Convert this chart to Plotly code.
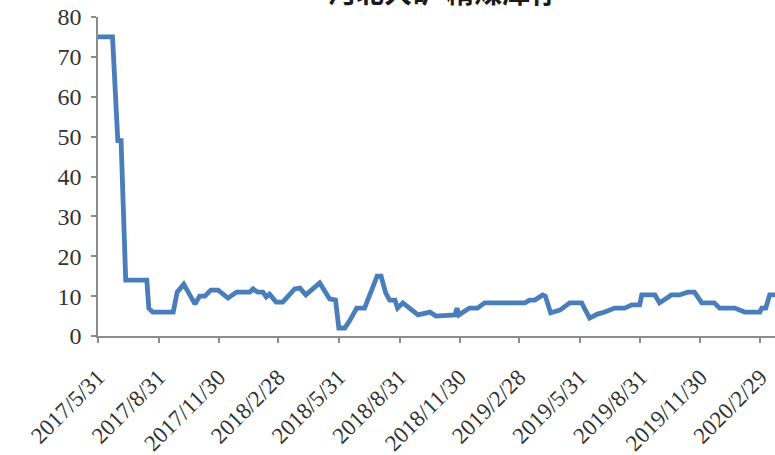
import plotly.graph_objects as go

# weekly-ish readings of the coking coal stock (vertices)
dates = [
    "2017-05-31", "2017-06-22", "2017-06-30", "2017-07-05", "2017-07-12", "2017-08-13",
    "2017-08-16", "2017-08-22", "2017-09-22", "2017-09-28", "2017-10-08", "2017-10-25",
    "2017-11-01", "2017-11-09", "2017-11-18", "2017-11-29", "2017-12-14", "2017-12-27",
    "2018-01-16", "2018-01-21", "2018-01-28", "2018-02-05", "2018-02-10", "2018-02-15",
    "2018-02-25", "2018-03-07", "2018-03-25", "2018-04-02", "2018-04-11", "2018-05-02",
    "2018-05-17", "2018-05-26", "2018-05-31", "2018-06-09", "2018-06-17", "2018-06-27",
    "2018-07-09", "2018-07-20", "2018-07-28", "2018-08-03", "2018-08-10", "2018-08-16",
    "2018-08-24", "2018-08-28", "2018-09-05", "2018-09-28", "2018-10-16", "2018-10-25",
    "2018-11-23", "2018-11-26", "2018-11-29", "2018-12-15", "2018-12-27", "2019-01-07",
    "2019-03-09", "2019-03-16", "2019-03-24", "2019-04-05", "2019-04-09", "2019-04-17",
    "2019-05-01", "2019-05-16", "2019-06-03", "2019-06-15", "2019-06-27", "2019-07-08",
    "2019-07-23", "2019-08-07", "2019-08-18", "2019-08-30", "2019-09-02", "2019-09-22",
    "2019-09-29", "2019-10-17", "2019-10-29", "2019-11-11", "2019-11-21", "2019-12-02",
    "2019-12-21", "2019-12-29", "2020-01-21", "2020-02-05", "2020-02-28", "2020-03-02",
    "2020-03-08", "2020-03-14", "2020-03-22",
]
stock = [
    75, 75, 49, 49, 14, 14,
    7, 6, 6, 11, 13, 8,
    10, 10, 11.5, 11.5, 9.5, 11,
    11, 11.8, 11, 11, 9.8, 10.5,
    8.5, 8.5, 11.8, 12, 10.3, 13.3,
    9.3, 9, 2, 2, 4, 7,
    7, 12, 15, 15, 10.8, 9,
    9, 7, 8.3, 5.3, 6, 5,
    5.3, 7, 5.3, 7, 7, 8.3,
    8.3, 9, 9, 10.3, 10, 5.8,
    6.5, 8.3, 8.3, 4.5, 5.5, 6,
    7, 7, 7.8, 7.8, 10.3, 10.3,
    8.3, 10.3, 10.3, 11, 11, 8.3,
    8.3, 7, 7, 6, 6, 7,
    7, 10.3, 10.3,
]

tick_dates = ["2017-05-31", "2017-08-31", "2017-11-30", "2018-02-28", "2018-05-31", "2018-08-31",
              "2018-11-30", "2019-02-28", "2019-05-31", "2019-08-31", "2019-11-30", "2020-02-29"]
tick_labels = ["2017/5/31", "2017/8/31", "2017/11/30", "2018/2/28", "2018/5/31", "2018/8/31",
               "2018/11/30", "2019/2/28", "2019/5/31", "2019/8/31", "2019/11/30", "2020/2/29"]

fig = go.Figure()
fig.add_trace(go.Scatter(x=dates, y=stock, mode="lines",
                         line=dict(color="#4a7ebb", width=4.8), showlegend=False))

axis_font = dict(family="Liberation Serif", size=23, color="#333333")
fig.update_layout(
    width=775, height=455,
    margin=dict(l=98, r=0, t=17, b=119),
    paper_bgcolor="white", plot_bgcolor="white",
    xaxis=dict(type="date", range=["2017-05-31", "2020-03-22"], automargin=False,
               tickvals=tick_dates, ticktext=tick_labels, tickangle=-45,
               showline=True, linecolor="#8c8c8c", linewidth=1.5,
               ticks="outside", ticklen=5, tickcolor="#8c8c8c", tickwidth=1.5,
               ticklabelstandoff=12,
               showgrid=False, zeroline=False, tickfont=axis_font),
    yaxis=dict(range=[0, 80], dtick=10, automargin=False,
               showline=True, linecolor="#8c8c8c", linewidth=1.5,
               ticks="outside", ticklen=5, tickcolor="#8c8c8c", tickwidth=1.5,
               ticklabelstandoff=5,
               showgrid=False, zeroline=False, tickfont=dict(axis_font, size=24)),
    annotations=[dict(text="<b>河北大矿 精煤库存</b>", xref="paper", yref="paper",
                      x=0.51, y=1.08, yanchor="middle", showarrow=False,
                      font=dict(family="Noto Sans CJK SC", size=28, color="#1a1a1a"))],
)

# the page body has an 8px default margin; drop it so the chart fills the window
fig.write_html("out.html", config={"displayModeBar": False},
               post_script="document.body.style.margin = '0';")
